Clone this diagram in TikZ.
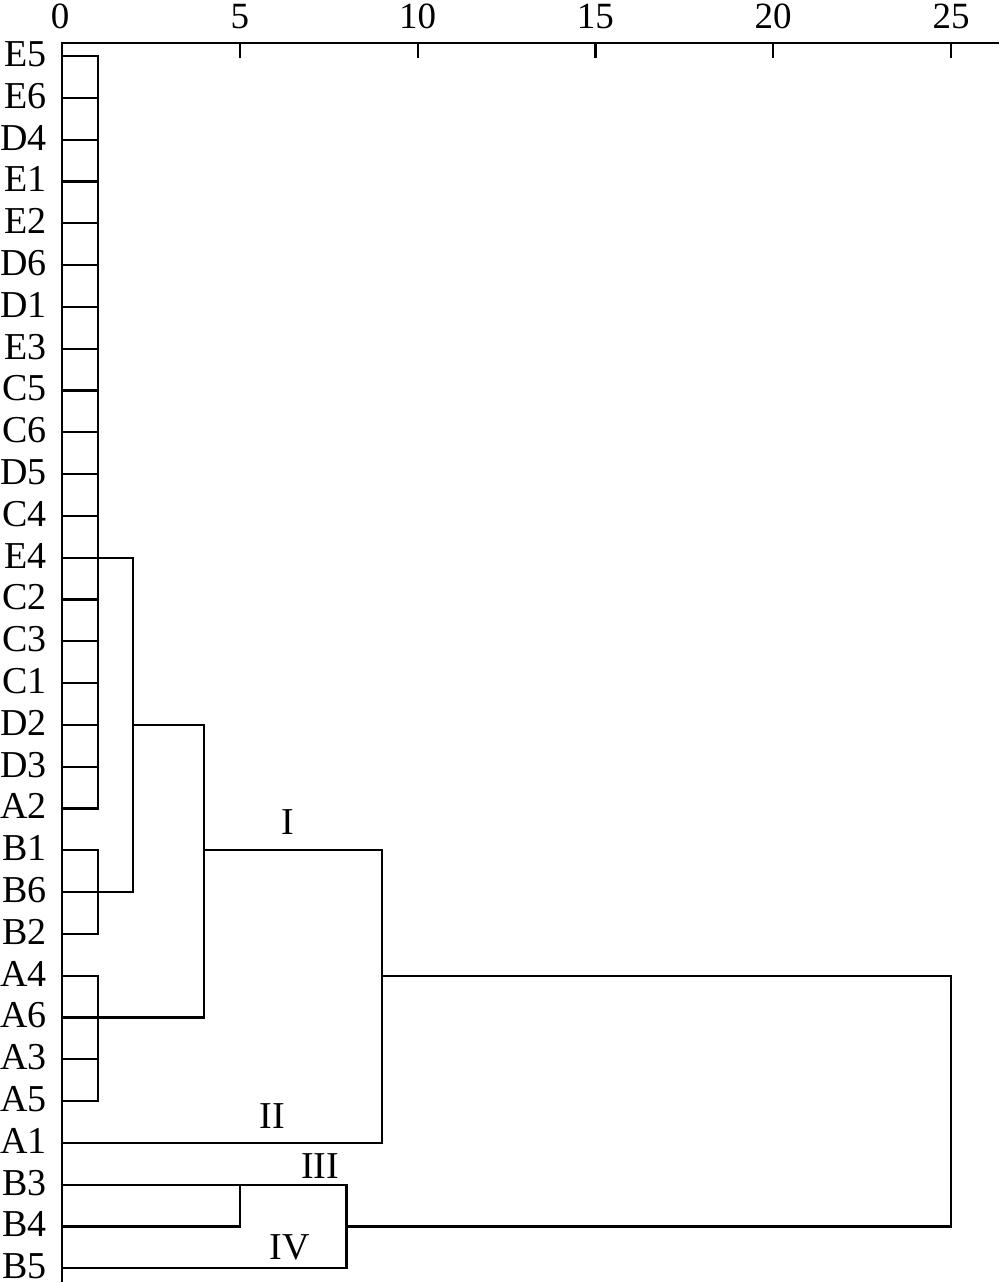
\documentclass[tikz,border=0pt]{standalone}
\usepackage{fontspec}
\setmainfont{Liberation Serif}
\begin{document}
\begin{tikzpicture}[x=1pt,y=-1pt,line width=2.2pt,line cap=rect,
  lbl/.style={anchor=east,inner sep=0pt,font=\fontsize{38}{40}\selectfont},
  ticklbl/.style={anchor=base,inner sep=0pt,font=\fontsize{37}{40}\selectfont},
  grp/.style={anchor=base,inner sep=0pt,font=\fontsize{38}{40}\selectfont},
  link/.style={draw=black,line width=2.2pt}]
\useasboundingbox (0,0) rectangle (1000,1283);
% axis
\coordinate (ax0) at (62,43);
\coordinate (axR) at (998,43);
\coordinate (axB) at (62,1281);
\draw[link] (axR) -- (ax0) -- (axB);
\node[ticklbl] (t0) at (60,28) {0};
\foreach \v in {5,10,15,20,25}{
  \coordinate (tk\v) at ({62+35.56*\v},43);
  \draw[link] (tk\v) -- ++(0,14);
  \node[ticklbl] (t\v) at ({62+35.56*\v},28) {\v};
}
% merge levels
\coordinate (k1) at (97.6,0);
\coordinate (k2) at (133.1,0);
\coordinate (k4) at (204.2,0);
\coordinate (k5) at (239.8,0);
\coordinate (k8) at (346.5,0);
\coordinate (k9) at (382.0,0);
\coordinate (k25) at (951.0,0);
% leaves
\foreach \n [count=\i from 0] in {E5,E6,D4,E1,E2,D6,D1,E3,C5,C6,D5,C4,E4,C2,C3,C1,D2,D3,A2,B1,B6,B2,A4,A6,A3,A5,A1,B3,B4,B5}{
  \node[lbl] (l\n) at (48,{54+41.8*\i}) {\n};
  \coordinate (p\n) at (62,{56+41.8*\i});
}
% first-level clusters at distance 1
\foreach \n in {E5,E6,D4,E1,E2,D6,D1,E3,C5,C6,D5,C4,E4,C2,C3,C1,D2,D3,A2,B1,B6,B2,A4,A6,A3,A5}{
  \draw[link] (p\n) -- (p\n -| k1);
}
\draw[link] (pE5 -| k1) -- (pA2 -| k1);
\draw[link] (pB1 -| k1) -- (pB2 -| k1);
\draw[link] (pA4 -| k1) -- (pA5 -| k1);
% higher merges
\draw[link] (pE4 -| k1) -- (pE4 -| k2) -- (pB6 -| k2) -- (pB6 -| k1);
\draw[link] (pD2 -| k2) -- (pD2 -| k4) -- (pA6 -| k4) -- (pA6 -| k1);
\draw[link] (pB1 -| k4) -- (pB1 -| k9) -- (pA1 -| k9) -- (pA1);
\draw[link] (pB4) -- (pB4 -| k5) -- (pB3 -| k5);
\draw[link] (pB3) -- (pB3 -| k8) -- (pB5 -| k8) -- (pB5);
\draw[link] (pA4 -| k9) -- (pA4 -| k25) -- (pB4 -| k25) -- (pB4 -| k8);
% group labels
\node[grp] (gI) at (288,834) {I};
\node[grp] (gII) at (272,1128) {II};
\node[grp] (gIII) at (320,1178) {III};
\node[grp] (gIV) at (290,1259) {IV};
\end{tikzpicture}
\end{document}
